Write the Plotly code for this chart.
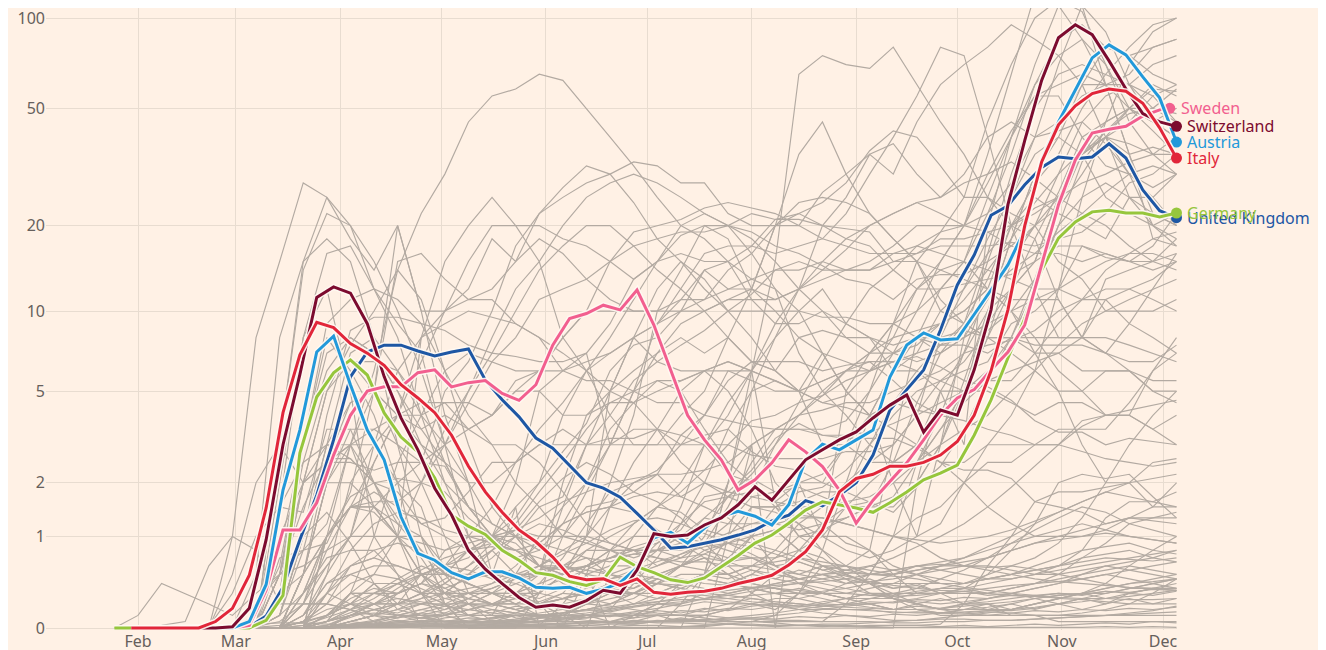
import numpy as np
import pandas as pd
import plotly.graph_objects as go

# ---------------- axis / tick data ----------------
month_ticks = ["2020-02-01", "2020-03-01", "2020-04-01", "2020-05-01", "2020-06-01",
               "2020-07-01", "2020-08-01", "2020-09-01", "2020-10-01", "2020-11-01", "2020-12-01"]
month_labels = ["Feb", "Mar", "Apr", "May", "Jun", "Jul", "Aug", "Sep", "Oct", "Nov", "Dec"]
y_ticks = [0, 1, 2, 5, 10, 20, 50, 100]
y_labels = ["0", "1", "2", "5", "10", "20", "50", "100"]

# highlighted series: every 5 days from 25 Jan 2020
five_day_dates = list(pd.date_range("2020-01-25", periods=64, freq="5D").strftime("%Y-%m-%d"))
sweden_dates = five_day_dates[:63] + ["2020-12-03"]
# grey series: weekly from 25 Jan 2020
week_dates = list(pd.date_range("2020-01-25", periods=46, freq="7D").strftime("%Y-%m-%d"))

italy = [None, 0, 0, 0, 0, 0, 0.05, 0.16, 0.49, 1.48,
         4.1, 6.9, 9.1, 8.7, 7.6, 7.0, 6.3, 5.3, 4.7, 4.1,
         3.3, 2.4, 1.8, 1.4, 1.1, 0.92, 0.71, 0.48, 0.44, 0.45,
         0.38, 0.45, 0.31, 0.29, 0.31, 0.32, 0.35, 0.40, 0.44, 0.49,
         0.61, 0.78, 1.1, 1.8, 2.1, 2.2, 2.4, 2.4, 2.5, 2.7,
         3.1, 4.0, 6.0, 10.1, 20, 33, 44, 51, 56, 58,
         57, 52, 43, 34]
switzerland = [None, None, None, None, None, 0, 0, 0.01, 0.16, 0.95,
               3.0, 5.8, 11.2, 12.2, 11.6, 9.0, 5.7, 3.9, 2.85, 1.88,
               1.35, 0.8, 0.56, 0.40, 0.26, 0.17, 0.19, 0.17, 0.23, 0.33,
               0.30, 0.55, 1.04, 1.0, 1.02, 1.18, 1.3, 1.54, 1.91, 1.63,
               2.07, 2.57, 2.85, 3.15, 3.41, 3.9, 4.4, 4.83, 3.4, 4.2,
               4.0, 6.05, 10.1, 23.6, 39, 62, 86, 95, 88, 72,
               58, 48, 45, 43.5]
austria = [None, None, None, None, None, 0, 0, 0, 0.05, 0.39,
           1.84, 3.47, 7.07, 8.1, 5.3, 3.47, 2.57, 1.32, 0.76, 0.67,
           0.52, 0.45, 0.53, 0.53, 0.46, 0.36, 0.35, 0.36, 0.30, 0.34,
           0.41, 0.58, 0.98, 1.06, 0.90, 1.13, 1.33, 1.42, 1.33, 1.18,
           1.54, 2.57, 3.02, 2.85, 3.15, 3.47, 5.68, 7.51, 8.32, 7.84,
           7.92, 9.69, 11.9, 14.6, 19.3, 33.5, 45, 57.6, 73.7, 81.4,
           75.4, 63.7, 54.2, 38.5]
sweden = [None, 0, 0, 0, 0, 0, 0, 0, 0.02, 0.33,
          1.1, 1.1, 1.58, 2.7, 4.0, 5.0, 5.2, 5.2, 5.9, 6.05,
          5.2, 5.4, 5.5, 4.9, 4.6, 5.3, 7.5, 9.4, 9.8, 10.5,
          10.1, 11.9, 8.9, 6.05, 4.0, 3.15, 2.57, 1.84, 2.07, 2.49,
          3.15, 2.79, 2.39, 1.84, 1.21, 1.63, 2.02, 2.49, 3.15, 4.0,
          4.7, 5.07, 6.05, 7.07, 8.9, 14.6, 23.6, 33.5, 41.3, 42.5,
          43.5, 47.1, 49.4, 50]
germany = [0, 0, 0, 0, 0, 0, 0, 0, 0, 0.06,
           0.28, 2.76, 4.74, 5.89, 6.6, 5.78, 4.09, 3.24, 2.79, 2.11,
           1.35, 1.16, 1.03, 0.8, 0.67, 0.52, 0.49, 0.42, 0.38, 0.44,
           0.71, 0.59, 0.52, 0.44, 0.41, 0.46, 0.59, 0.73, 0.9, 1.02,
           1.21, 1.44, 1.6, 1.54, 1.48, 1.40, 1.58, 1.8, 2.07, 2.23,
           2.43, 3.3, 4.62, 6.71, 9.4, 14, 18.1, 20.6, 22.3, 22.6,
           22.1, 22.1, 21.4, 22.1]
united_kingdom = [None, 0, 0, 0, 0, 0, 0, 0, 0.01, 0.095,
                  0.36, 0.95, 1.73, 3.15, 5.68, 7.07, 7.5, 7.5, 7.13, 6.83,
                  7.07, 7.26, 5.53, 4.62, 3.94, 3.21, 2.9, 2.43, 2.0, 1.88,
                  1.69, 1.38, 1.1, 0.83, 0.85, 0.9, 0.95, 1.02, 1.1, 1.25,
                  1.35, 1.62, 1.52, 1.73, 2.0, 2.7, 4.2, 5.07, 6.05, 8.53,
                  12.4, 15.8, 21.7, 23.4, 27.6, 31.6, 34.3, 33.8, 34.3, 38,
                  34, 26.5, 22.5, 21.3]

# ---------------- grey background countries (weekly) ----------------
grey_01 = [0, 0, 0, 0, 0, 0, 0.1, 0.6, 3, 9, 11, 12, 11, 9, 6, 4, 3, 2, 1.5, 1,
           0.9, 0.8, 0.8, 0.9, 1.2, 2, 3.5, 5, 5.5, 5, 4.5, 4.8, 6, 8, 12, 15, 20, 35, 65, 120,
           150, 110, 60, 35, 22, 20]
grey_02 = [0, 0, 0, 0, 0, 0, 0.1, 1.5, 8, 16, 17, 12, 9, 7, 3, 2, 1.2, 1, 0.6, 0.5,
           0.8, 0.8, 0.7, 0.8, 1.5, 3, 4.5, 6, 9, 12, 15, 18, 20, 22, 24, 22, 20, 22, 28, 40,
           42, 45, 38, 30, 20, 17]
grey_03 = [0, 0, 0, 0, 0, 0, 0.1, 0.8, 3, 6, 8, 7, 5, 3, 2, 1.5, 1, 0.8, 0.6, 0.5,
           0.6, 0.7, 0.8, 0.8, 1, 1.3, 1.7, 2.2, 3, 4.5, 6.5, 9, 12, 14, 17, 19, 20, 28, 40, 60,
           75, 85, 60, 35, 18, 17]
grey_04 = [0, 0, 0, 0, 0, 0, 0, 0.5, 2.5, 5.5, 6.5, 6.5, 6, 4.5, 2.5, 1.5, 1.2, 1, 0.9, 0.8,
           0.7, 0.5, 0.4, 0.4, 0.6, 1, 2, 3, 3.5, 3.5, 3.5, 3.8, 5, 7, 10, 15, 20, 30, 42, 55,
           55, 40, 32, 30, 27, 30]
grey_05 = [0, 0, 0, 0, 0, 1, 8, 15, 28, 25, 18, 14, 20, 10, 4, 2, 0.5, 1.5, 0, 0,
           0.5, 0, 0, 0, 0, 0, 1, 3, 0, 2, 1, 5, 4, 2, 1, 3, 8, 15, 25, 40,
           70, 110, 90, 60, 45, 50]
grey_06 = [0, 0, 0, 0, 0, 0, 0, 3, 14, 22, 20, 15, 10, 6, 3, 1, 0.5, 0.5, 0.2, 0,
           0, 0.5, 1, 1.5, 2, 3, 4, 6, 8, 12, 20, 25, 35, 30, 45, 60, 70, 80, 95, 85,
           75, 60, 40, 25, 25, 30]
grey_07 = [0, 0, 0, 0, 0, 0, 0, 0.3, 2, 5, 7.5, 10, 14, 11, 6, 3, 1.5, 1, 0.6, 0.4,
           0.3, 0.3, 0.2, 0.3, 0.4, 0.5, 0.6, 1, 1.5, 1.8, 1.9, 2.3, 3, 4.5, 6, 7.5, 9, 13, 20, 18,
           11, 8, 7, 6, 5, 4.5]
grey_08 = [0, 0, 0, 0, 0, 0, 0, 0.1, 1, 4, 8.5, 9.5, 9.5, 9, 8.5, 7.5, 7, 6.8, 6.5, 6.5,
           7, 9, 13, 15, 18.5, 20, 20, 19, 17, 16, 14.5, 13, 12.5, 11, 13, 13.5, 13.5, 15, 17, 20,
           23, 30, 40, 50, 50, 58]
grey_09 = [0, 0, 0, 0, 0, 0, 0, 0.3, 3, 8, 6, 4, 2, 0.5, 0.2, 0, 0, 0, 0, 0,
           0, 0, 0, 0, 0, 0.5, 2, 6, 15, 65, 75, 70, 68, 80, 60, 45, 35, 25, 20, 25,
           22, 20, 18, 25, 20, 18]
grey_10 = [0, 0, 0, 0, 0, 0, 0, 0.3, 2, 5, 6.5, 5, 3, 2, 1, 0.3, 0.2, 0.2, 0.3, 1,
           1.8, 3, 5, 9, 12, 16, 17, 17, 16, 17, 18, 22, 30, 40, 55, 80, 75, 40, 20, 12,
           8, 8, 7, 9, 12, 16]
grey_11 = [0, 0, 0, 0, 0, 0, 0, 1, 2, 2.5, 3, 6, 14, 22, 30, 45, 55, 58, 65, 62,
           50, 40, 32, 25, 20, 18, 15, 11, 9, 9, 10, 9, 8, 7.5, 8, 7.5, 7.5, 7, 8, 8,
           8, 8, 8, 7.5, 7, 6.5]
grey_12 = [0, 0, 0, 0, 0, 0, 0, 0.1, 0.8, 2.5, 2.5, 2.3, 2.5, 2.5, 5, 6.5, 10, 17, 22, 27,
           32, 30, 24, 18, 15, 12, 10, 10, 10, 10, 9.5, 9.5, 9, 9, 8, 8, 8.5, 8, 8, 7.5,
           7.5, 7.5, 7, 6.5, 6.5, 7.5]
grey_13 = [0, 0, 0, 0, 0, 0, 0, 0, 0.05, 0.2, 0.6, 0.7, 1, 2, 3, 4.5, 6.5, 8, 11, 12,
           13, 15, 17, 18, 19, 19, 20, 22, 21, 21, 20, 19.5, 19, 15, 15, 14, 13, 12, 11, 11,
           11, 8, 13, 14, 15, 18]
grey_14 = [0, 0, 0, 0, 0, 0, 0, 0, 0.2, 0.8, 1.5, 2.5, 4, 8, 10, 11, 12, 15, 18, 16,
           13, 11, 10, 10, 11, 11, 14, 16, 20, 24, 25, 24, 22, 18, 15, 11, 9, 8, 8, 7,
           7, 6, 6, 6, 5.5, 5.5]
grey_15 = [0, 0, 0, 0, 0, 0, 0, 0, 0.5, 2.5, 4.5, 5, 4, 3.5, 4, 3.5, 4, 5.5, 6, 8,
           10, 15, 19, 20, 21, 23, 24, 23, 22, 20, 18, 17, 16, 16, 16, 17, 17, 17, 17.5, 17,
           18, 19, 22, 28, 30, 35]
grey_16 = [0, 0, 0, 0, 0, 0, 0, 0, 0, 0.1, 0.2, 0.2, 0.2, 0.3, 0.3, 0.5, 0.7, 1, 1.5, 1.7,
           3, 4, 5.5, 6.5, 7.5, 8.5, 10, 11.5, 14, 15, 14, 16.5, 20, 22, 24, 25, 28, 30, 33, 29,
           25, 22, 20, 17, 15, 14]
grey_17 = [0, 0, 0, 0, 0, 0, 0, 0, 0, 0.1, 0.3, 0.3, 0.4, 0.5, 0.6, 0.7, 1, 1.3, 2, 2.8,
           3.7, 6, 7.5, 8, 10, 14, 15, 17, 21, 22, 20, 18, 17, 14, 12, 12, 12.5, 13, 13.5, 15,
           17, 17, 15.5, 15, 15, 16]
grey_18 = [0, 0, 0, 0, 0, 0, 0, 0.5, 1.5, 2.6, 2.6, 2, 1.2, 0.8, 0.5, 0.5, 0.5, 0.5, 0.5, 0.5,
           0.6, 0.8, 1.2, 1.5, 1.4, 1.1, 1.7, 2.1, 1.8, 2, 2, 3, 5, 9, 15, 19, 25, 45, 70, 100,
           115, 105, 70, 45, 35, 40]
grey_19 = [0, 0, 0, 0, 0, 0, 0, 0, 0.1, 0.4, 0.6, 0.8, 0.9, 0.8, 0.4, 0.3, 0.3, 0.2, 0.1, 0.1,
           0.1, 0.05, 0.1, 0.1, 0.1, 0.1, 0.15, 0.2, 0.15, 0.3, 0.8, 2, 4, 6, 8, 7, 8, 9, 10, 13,
           23, 35, 42, 50, 58, 57]
grey_20 = [0, 0, 0, 0, 0, 0, 0, 0, 0.1, 0.4, 0.5, 0.6, 0.6, 0.5, 0.5, 0.4, 0.3, 0.3, 0.4, 0.7,
           1.2, 1.8, 2, 2.3, 3, 3.3, 3.5, 2.8, 2.4, 2.3, 2, 1.8, 1.6, 1.4, 1.9, 2.4, 3.5, 5.5, 8, 13,
           20, 33, 42, 48, 50, 48]
grey_21 = [0, 0, 0, 0, 0, 0, 0, 0, 0.2, 0.6, 1, 1, 1, 0.9, 0.8, 0.9, 1, 1.1, 1, 1,
           1, 0.9, 0.8, 0.8, 0.8, 0.9, 1.2, 1.7, 1.8, 1.9, 1.7, 1.5, 1.5, 1.5, 2, 3, 5.5, 10, 18, 30,
           40, 60, 60, 50, 42, 35]
grey_22 = [0, 0, 0, 0, 0, 0, 0, 0, 0.5, 2, 3, 3, 2, 1.5, 0.5, 0.8, 1, 2, 5, 6,
           6.5, 7, 8, 6.5, 6, 6, 6, 5.5, 5, 5, 5.5, 6, 7, 7, 6.5, 7, 8, 9, 12, 18,
           26, 40, 45, 50, 45, 40]
grey_23 = [0, 0, 0, 0, 0, 0, 0, 0, 0.5, 2, 2, 1.5, 1, 1, 0.5, 0.4, 0.3, 0.3, 0.5, 1.5,
           3, 5, 6, 7, 8, 7, 8, 6.5, 6, 8, 8.5, 8, 8, 7, 7.5, 9, 11, 14, 18, 24,
           30, 36, 40, 38, 35, 30]
grey_24 = [0, 0, 0, 0, 0, 0, 0, 0, 0, 1, 3, 2, 1, 0.3, 0, 0, 0, 0, 0.3, 0.5,
           1, 5, 8, 9, 11, 14, 12, 12, 20, 20, 26, 30, 35, 38, 30, 25, 30, 40, 45, 40,
           45, 60, 80, 75, 65, 60]
grey_25 = [0, 0, 0, 0, 0, 0, 0, 0, 0.5, 1, 1.5, 1.6, 1.6, 2, 3.5, 5, 7, 10, 14, 17,
           20, 20, 17, 14, 12, 10, 8, 6.5, 6, 5, 7, 6.5, 6, 7, 8, 12, 15, 25, 40, 55,
           60, 65, 60, 60, 55, 45]
grey_26 = [0, 0, 0, 0, 0, 0, 0, 0, 0.3, 1, 1.7, 2, 2.1, 2, 1.8, 1.3, 1, 1, 0.8, 1,
           1.5, 1.6, 1.8, 2.2, 3.3, 4, 5.5, 6.5, 6.5, 6.5, 6, 6.3, 6.5, 6.5, 7, 10, 12, 16, 20, 23,
           25, 35, 40, 35, 37, 35]
grey_27 = [0, 0, 0, 0, 0, 0, 0, 1.5, 2.5, 3, 2.6, 2, 1.3, 0.8, 0.5, 0.2, 0.1, 0.1, 0.1, 0.1,
           0.2, 0.8, 1, 1, 1, 0.8, 0.7, 0.7, 0.7, 1, 1.1, 1.3, 1.5, 2.5, 4.5, 7, 9, 16, 30, 50,
           65, 70, 65, 60, 70, 75]
grey_28 = [0, 0, 0, 0, 0, 0, 0, 0, 0.2, 1, 1.5, 1.4, 1, 0.7, 0.3, 0.2, 0.05, 0.02, 0.02, 0.2,
           0.5, 1.5, 2, 2.2, 1.7, 2, 1.7, 1.8, 3, 4, 5, 6, 6.5, 5.5, 4.5, 4, 5, 10, 18, 30,
           45, 55, 60, 65, 80, 85]
grey_29 = [0, 0, 0, 0, 0, 0, 0, 3, 15, 25, 20, 12, 8, 4, 2, 1, 0.5, 0.3, 0.3, 0.5,
           1, 2, 4, 10, 14, 20, 18, 12, 10, 8, 7, 5, 7, 9, 10, 12, 15, 22, 35, 60,
           85, 95, 80, 75, 80, 85]
grey_30 = [0, 0, 0, 0, 0, 0, 0, 0, 0, 0.1, 0.2, 0.4, 0.4, 0.3, 0.2, 0.1, 0.1, 0.05, 0.1, 0.05,
           0.05, 0.05, 0.05, 0.1, 0.05, 0.05, 0.05, 0.05, 0.05, 0.05, 0.05, 0.2, 0.5, 1, 2.5, 4, 7, 12, 20, 28,
           35, 50, 65, 80, 95, 100]
grey_31 = [0, 0, 0, 0, 0.01, 0.3, 1, 1.5, 1.4, 3.5, 3.5, 2, 1.8, 1.2, 1.3, 1.8, 2.5, 2.5, 3, 3.5,
           3, 3, 3, 3, 3, 3, 3, 2.7, 2.6, 2.6, 2.6, 2.8, 2.8, 3, 4, 4.5, 5, 5.5, 5.5, 7,
           9, 11, 14, 16, 16, 15]
grey_32 = [0, 0, 0, 0, 0, 0.5, 2, 3, 2, 2.5, 3, 5, 20, 10, 10, 12, 18, 15, 22, 25,
           28, 30, 33, 32, 28, 28, 22, 20, 20, 22, 24, 28, 36, 42, 40, 32, 25, 25, 22, 20,
           15, 13, 10, 10, 10, 11]
grey_33 = [0, 0, 0, 0, 0, 0, 0.2, 0.5, 0.6, 0.8, 1, 2.5, 4, 6.5, 10, 15, 20, 20, 20, 18,
           17, 15, 13, 15, 16, 15, 15, 13, 14, 14, 15, 14, 14, 16, 17, 16, 15, 14, 13, 12,
           12, 11, 11, 9, 8, 7]
grey_34 = [0, 0.1, 0.4, 0.3, 0.2, 0.1, 0.3, 0.5, 0.8, 0.9, 1.8, 5, 15, 16, 13, 11, 11, 9, 8, 6,
           7, 3, 3.5, 3.5, 3, 4, 6, 6, 1.6, 1, 1, 1, 0.8, 0.5, 0.3, 0.3, 0.2, 0.2, 0.1, 0.1,
           0.1, 0.1, 0.1, 0.1, 0.1, 0.1]
grey_35 = [0, 0, 0, 0, 0, 0, 0, 0, 0, 0.3, 0.2, 0.1, 0.2, 0.5, 0.5, 0.8, 1, 1.5, 2, 4,
           6, 8, 11, 15, 20, 22, 20, 16, 12, 7, 5, 4, 3, 2.5, 3, 2.5, 2.5, 3, 3, 3,
           3.5, 3.5, 3.5, 4.5, 6, 7]
grey_36 = [0, 0, 0, 0, 0, 0, 0, 0, 0, 1, 1.5, 1.5, 1, 0.5, 0.3, 0.1, 0.1, 0.5, 0.5, 2,
           4, 5, 8, 12, 15, 13, 10, 8, 6, 5, 3, 3, 2.5, 2.5, 2.5, 3.5, 5, 8, 15, 20,
           25, 35, 40, 30, 25, 20]
grey_37 = [0, 0, 0, 0, 0, 0, 0, 0, 0, 0.5, 2, 3, 4, 4, 4.5, 4.5, 4, 5, 6, 8,
           10, 10, 10, 10, 10, 10, 11, 11, 11, 12, 13, 14, 14, 15, 16, 18, 18, 19, 20, 22,
           25, 28, 30, 33, 35, 35]
grey_38 = [0, 0, 0, 0, 0, 0, 0, 0.5, 3, 7, 8, 7, 5, 3.5, 2.5, 2, 2, 2.5, 3, 3,
           3, 3.2, 3.2, 3.5, 3.3, 3, 2.2, 2, 1.6, 2, 2.2, 3, 4, 6, 7, 7.5, 8, 11, 16, 20,
           30, 45, 55, 60, 50, 45]
grey_39 = [0, 0, 0, 0, 0, 0, 0, 0.7, 0.8, 1.2, 3, 3.5, 3, 2.5, 2.4, 1.5, 1, 0.9, 0.6, 0.6,
           0.5, 0.6, 0.6, 0.3, 0.4, 0.5, 0.6, 1.5, 1.5, 1.6, 1.8, 1.8, 3, 4, 5, 5.5, 6, 6.5, 9, 10,
           12, 17, 16, 15, 17, 22]
grey_40 = [0, 0, 0, 0, 0, 0, 0, 0, 0.5, 2, 3.5, 3.5, 4, 4.5, 4.5, 3.5, 3, 3, 2.5, 1.8,
           1.2, 0.9, 0.8, 0.8, 0.9, 1.3, 1.2, 1.2, 1.2, 1.1, 1.2, 1.3, 1.5, 1.7, 2.5, 3.5, 4.5, 5.5, 6, 6.5,
           7, 8, 11, 12, 13, 15]
grey_41 = [0, 0, 0, 0, 0, 0, 0, 0, 0, 0.05, 0.3, 1, 2.5, 4, 6, 7, 6.5, 6, 6, 6,
           5.5, 5.5, 5, 4.5, 4.5, 4, 3.8, 3.6, 3.5, 3.5, 3.3, 3.3, 3.4, 3.7, 4.1, 5.5, 6.5, 8.5, 10, 11,
           12, 13.5, 15, 16, 18, 19]
grey_42 = [0, 0, 0, 0, 0, 0, 0, 0, 0, 0, 0.01, 0.05, 0.1, 0.1, 0.15, 0.2, 0.3, 0.4, 0.5, 0.6,
           0.8, 1, 1.2, 1.5, 1.8, 2.3, 3, 3.8, 4, 4.5, 4.8, 5.5, 6, 6.5, 6.8, 6.2, 5.5, 5.2, 4.6, 3.8,
           3.4, 3.4, 3, 3.2, 3.1, 3]
grey_43 = [0, 0, 0, 0, 0, 0, 0.03, 0.04, 0.04, 0.1, 0.2, 0.4, 0.4, 0.3, 0.2, 0.1, 0.05, 0.03, 0.03, 0.03,
           0.04, 0.05, 0.08, 0.15, 0.3, 0.5, 0.7, 1, 1.1, 0.8, 0.7, 0.5, 0.4, 0.4, 0.4, 0.4, 0.4, 0.45, 0.45, 0.5,
           0.6, 0.8, 1.3, 1.6, 1.6, 1.8]
grey_44 = [0, 0, 0.02, 0.05, 0.6, 1, 0.8, 0.2, 0.2, 0.2, 0.15, 0.05, 0.02, 0.02, 0.02, 0.05, 0.05, 0.05, 0.08, 0.1,
           0.08, 0.1, 0.08, 0.1, 0.1, 0.08, 0.05, 0.05, 0.1, 0.3, 0.6, 0.6, 0.4, 0.3, 0.2, 0.15, 0.15, 0.15, 0.15, 0.2,
           0.25, 0.3, 0.4, 0.6, 0.8, 1]
grey_45 = [0, 0, 0, 0, 0, 0, 0, 0, 0, 0, 0.01, 0.02, 0.05, 0.05, 0.1, 0.15, 0.2, 0.3, 0.4, 0.5,
           0.6, 0.7, 0.8, 0.7, 0.6, 0.7, 0.5, 0.4, 0.35, 0.3, 0.25, 0.2, 0.2, 0.15, 0.15, 0.12, 0.15, 0.2, 0.15, 0.2,
           0.25, 0.3, 0.3, 0.35, 0.4, 0.45]
grey_46 = [0, 0, 0, 0, 0, 0, 0, 0, 0, 0, 0.02, 0.05, 0.1, 0.08, 0.12, 0.1, 0.15, 0.12, 0.2, 0.25,
           0.3, 0.35, 0.3, 0.4, 0.35, 0.45, 0.4, 0.35, 0.3, 0.35, 0.3, 0.25, 0.3, 0.25, 0.2, 0.25, 0.2, 0.15, 0.2, 0.15,
           0.2, 0.15, 0.2, 0.25, 0.2, 0.25]
grey_47 = [0, 0, 0, 0, 0, 0, 0, 0, 0, 0, 0.05, 0.1, 0.15, 0.25, 0.4, 0.6, 0.9, 1.1, 1.6, 2.1,
           2.5, 2.2, 1.8, 1.6, 1.3, 0.9, 0.6, 0.4, 0.35, 0.3, 0.3, 0.25, 0.25, 0.25, 0.3, 0.3, 0.3, 0.3, 0.35, 0.4,
           0.5, 0.7, 0.9, 1.2, 1.3, 1.4]
grey_48 = [0, 0, 0, 0, 0, 0, 0, 0, 0, 0, 0.05, 0.1, 0.15, 0.2, 0.25, 0.3, 0.4, 0.6, 0.9, 1.2,
           1.4, 1.5, 1.4, 1.1, 0.9, 0.7, 0.5, 0.3, 0.2, 0.15, 0.15, 0.15, 0.15, 0.12, 0.13, 0.12, 0.12, 0.14, 0.14, 0.16,
           0.2, 0.25, 0.3, 0.35, 0.4, 0.45]
grey_49 = [0, 0, 0, 0, 0, 0, 0, 0, 0, 0, 0.01, 0.01, 0.02, 0.03, 0.03, 0.04, 0.05, 0.07, 0.1, 0.12,
           0.15, 0.2, 0.25, 0.4, 0.6, 0.8, 0.9, 1, 1.1, 0.8, 0.6, 0.45, 0.3, 0.3, 0.3, 0.35, 0.35, 0.5, 0.8, 1.2,
           2, 2.2, 2.1, 2.2, 1.7, 1.3]
grey_50 = [0, 0, 0, 0, 0, 0, 0, 0, 0, 0, 0.02, 0.03, 0.04, 0.05, 0.05, 0.06, 0.08, 0.1, 0.1, 0.12,
           0.15, 0.17, 0.2, 0.22, 0.24, 0.24, 0.25, 0.28, 0.3, 0.3, 0.32, 0.35, 0.4, 0.5, 0.55, 0.6, 0.6, 0.58, 0.6, 0.56,
           0.5, 0.55, 0.6, 0.65, 0.7, 0.8]
grey_51 = [0, 0, 0, 0, 0, 0, 0, 0, 0, 0, 0, 0, 0.005, 0.01, 0.02, 0.05, 0.08, 0.1, 0.12, 0.15,
           0.2, 0.25, 0.3, 0.3, 0.3, 0.25, 0.22, 0.2, 0.18, 0.15, 0.12, 0.1, 0.08, 0.06, 0.06, 0.07, 0.07, 0.06, 0.06, 0.07,
           0.08, 0.09, 0.1, 0.12, 0.14, 0.18]
grey_52 = [0, 0.01, 0.01, 0.005, 0.005, 0.01, 0.01, 0.05, 0.2, 0.2, 0.15, 0.1, 0.05, 0.02, 0.01, 0.01, 0.02, 0.01, 0.02, 0.01,
           0.02, 0.01, 0.02, 0.02, 0.01, 0.02, 0.03, 0.02, 0.01, 0.02, 0.01, 0.02, 0.01, 0.02, 0.02, 0.01, 0.02, 0.01, 0.02, 0.03,
           0.02, 0.03, 0.04, 0.03, 0.05, 0.04]
grey_53 = [0, 0, 0, 0, 0, 0, 0, 0, 0, 0.05, 0.3, 0.3, 0.3, 0.4, 0.3, 0.3, 0.2, 0.15, 0.2, 0.3,
           0.6, 0.8, 0.8, 0.6, 0.7, 0.9, 1.5, 2.5, 3.5, 4, 4.2, 4.5, 4.5, 5, 5.5, 6, 7, 7.5, 7.8, 8.5,
           10, 11, 12, 12, 11, 10]
grey_54 = [0, 0, 0, 0, 0, 0, 0, 0, 0, 0.1, 0.3, 0.2, 0.1, 0.05, 0.02, 0.02, 0.01, 0.01, 0.01, 0.02,
           0.02, 0.03, 0.03, 0.05, 0.05, 0.1, 0.15, 0.3, 0.5, 0.8, 1.2, 1.5, 2, 2.5, 3, 5, 7, 10, 12, 15,
           25, 35, 45, 50, 45, 40]
grey_55 = [0, 0, 0, 0, 0, 0, 0, 0, 0, 0, 0, 0.005, 0.01, 0.01, 0.01, 0.02, 0.03, 0.05, 0.08, 0.12,
           0.2, 0.3, 0.35, 0.5, 0.6, 0.75, 0.9, 1.1, 1.2, 1.3, 1.3, 1.2, 1.1, 1, 0.9, 0.7, 0.6, 0.6, 0.55, 0.5,
           0.5, 0.45, 0.4, 0.35, 0.35, 0.35]
grey_56 = [0, 0, 0, 0, 0.01, 0.02, 0.05, 0.2, 1, 1.4, 0.9, 0.4, 0.15, 0.1, 0.05, 0.05, 0.05, 0.05, 0.05, 0.05,
           0.1, 0.15, 0.4, 0.7, 1.2, 1.6, 1.7, 1.5, 1.4, 1.2, 0.8, 0.5, 0.4, 0.25, 0.15, 0.1, 0.1, 0.1, 0.1, 0.1,
           0.05, 0.05, 0.05, 0.05, 0.05, 0.05]
grey_57 = [0, 0, 0, 0, 0, 0, 0, 0, 0, 0.05, 0.15, 0.2, 0.2, 0.2, 0.2, 0.2, 0.2, 0.2, 0.3, 0.5,
           0.6, 0.5, 0.6, 0.9, 1.1, 1.7, 1.8, 2.3, 3.2, 3.7, 3.3, 3.2, 3.2, 3.2, 2.9, 2.5, 2.3, 2.3, 2.1, 1.6,
           1.5, 1.4, 1.2, 1.3, 1.3, 1.3]
grey_58 = [0, 0, 0, 0, 0, 0, 0, 2, 8, 12, 5, 1, 0.5, 0, 0, 0, 0, 0, 0, 0,
           0, 0, 0, 0, 0, 0, 0, 0, 0, 0, 0, 0, 0, 0, 2, 5, 3, 20, 40, 70,
           110, 85, 70, 50, 60, 55]
grey_59 = [0, 0, 0, 0, 0, 0, 0.5, 8, 15, 18, 15, 8, 3, 1, 0.2, 0, 0, 0, 0, 0,
           0, 0, 0.1, 0.2, 0.4, 0.5, 1, 1.5, 1.5, 1, 0.8, 0.6, 0.8, 3, 8, 9, 10, 12, 10, 7,
           5, 3, 2, 2, 1.5, 2]
grey_60 = [0, 0, 0, 0, 0, 0, 0, 0, 0, 0.1, 0.3, 0.5, 1, 8, 15, 20, 25, 20, 15, 8,
           6, 4, 3, 3, 4, 5, 8, 12, 20, 35, 45, 30, 22, 18, 15, 10, 9, 8, 7, 6,
           5, 5, 6, 6, 5, 5]
grey_61 = [0, 0, 0, 0, 0, 0, 0, 0, 0, 0.3, 0.5, 0.4, 0.2, 0.1, 0.1, 0.2, 0.3, 0.5, 1, 1.5,
           2, 3, 5, 7, 9, 10, 11, 12, 11, 12, 14, 14, 15, 17, 20, 20, 20, 19, 17, 16,
           16, 15, 16, 15, 14, 15]
grey_62 = [0, 0, 0, 0, 0, 0, 0, 0, 0, 0.05, 0.1, 0.2, 0.3, 0.4, 0.6, 1, 1.5, 2.5, 3.5, 4.5,
           6, 7, 8, 9, 10, 11, 12, 13, 12, 10, 7, 5, 4, 3.5, 3, 2.5, 2, 1.5, 1.2, 1,
           1, 1, 1.1, 1.3, 1.5, 1.5]
grey_63 = [0, 0, 0, 0, 0, 0, 0, 0.3, 0.5, 1, 1.5, 1.8, 1.5, 1.2, 1, 0.8, 0.5, 0.3, 0.2, 0.15,
           0.1, 0.1, 0.1, 0.1, 0.1, 0.15, 0.2, 0.2, 0.25, 0.25, 0.3, 0.4, 0.5, 1, 1.3, 1.5, 2, 2.5, 2.5, 3,
           3, 3.8, 4, 4, 6, 8]
grey_64 = [0, 0, 0, 0, 0, 0, 0, 0, 0, 0, 0.05, 0.1, 0.3, 0.5, 0.6, 0.8, 0.9, 0.8, 0.9, 1.2,
           1.4, 1.5, 1.7, 1.8, 1.7, 1.5, 1.3, 1, 0.6, 0.4, 0.3, 0.25, 0.2, 0.15, 0.15, 0.12, 0.15, 0.17, 0.2, 0.25,
           0.2, 0.25, 0.2, 0.3, 0.35, 0.4]
grey_65 = [0, 0, 0, 0, 0, 0, 0, 0, 0, 0, 0.05, 0.03, 0.06, 0.04, 0.08, 0.1, 0.15, 0.08, 0.06, 0.05,
           0.05, 0.04, 0.03, 0.05, 0.08, 0.05, 0.03, 0.02, 0.02, 0.02, 0.02, 0.01, 0.02, 0.02, 0.02, 0.03, 0.2, 0.6, 1, 1.6,
           1.8, 1.8, 1.9, 2, 2.5, 2.6]
grey_66 = [0, 0, 0.005, 0.005, 0, 0, 0.005, 0.02, 0.04, 0.03, 0.02, 0.01, 0.005, 0, 0, 0.005, 0.005, 0.01, 0.005, 0.005,
           0.005, 0.005, 0, 0.005, 0.01, 0.01, 0.03, 0.05, 0.04, 0.02, 0.02, 0.01, 0.005, 0.005, 0.005, 0.005, 0.005, 0.005, 0, 0.005,
           0.005, 0.005, 0.01, 0.005, 0.01, 0.005]
grey_67 = [0, 0, 0, 0, 0, 0, 0, 0, 0, 0, 0.1, 0.2, 0.3, 0.4, 0.8, 1, 0.9, 0.8, 0.6, 0.55,
           0.6, 0.7, 0.75, 0.7, 0.65, 0.65, 0.6, 0.6, 0.55, 0.5, 0.6, 0.5, 0.4, 0.25, 0.2, 0.15, 0.12, 0.1, 0.12, 0.1,
           0.1, 0.12, 0.15, 0.2, 0.3, 0.45]
grey_68 = [0, 0, 0, 0, 0, 0, 0, 0, 0, 0, 0.1, 0.15, 0.2, 0.25, 0.3, 0.35, 0.4, 0.5, 0.6, 0.8,
           1, 1.5, 2.5, 3.5, 5, 6, 5, 3.5, 2, 1.5, 1.2, 0.9, 0.8, 0.6, 0.5, 0.4, 0.4, 0.5, 0.6, 0.7,
           0.9, 1.3, 2, 3, 4, 5]
grey_69 = [0, 0, 0, 0, 0, 0, 0, 0, 0, 0, 0.02, 0.03, 0.05, 0.08, 0.1, 0.15, 0.2, 0.25, 0.35, 0.45,
           0.55, 0.7, 0.85, 0.95, 1.0, 0.9, 0.8, 0.7, 0.55, 0.45, 0.4, 0.35, 0.3, 0.25, 0.22, 0.2, 0.22, 0.25, 0.3, 0.35,
           0.4, 0.5, 0.6, 0.55, 0.5, 0.45]
grey_70 = [0, 0, 0, 0, 0, 0, 0, 0, 0.02, 0.05, 0.1, 0.12, 0.1, 0.08, 0.06, 0.05, 0.04, 0.05, 0.04, 0.03,
           0.05, 0.04, 0.06, 0.05, 0.07, 0.06, 0.08, 0.1, 0.12, 0.15, 0.18, 0.2, 0.25, 0.3, 0.35, 0.45, 0.55, 0.7, 0.9, 1.1,
           1.3, 1.5, 1.4, 1.2, 1.1, 1.0]
grey_71 = [0, 0, 0, 0, 0, 0, 0, 0, 0, 0.01, 0.03, 0.06, 0.1, 0.15, 0.12, 0.2, 0.18, 0.25, 0.22, 0.3,
           0.28, 0.35, 0.3, 0.4, 0.38, 0.45, 0.4, 0.5, 0.45, 0.55, 0.5, 0.45, 0.4, 0.35, 0.38, 0.3, 0.32, 0.28, 0.3, 0.25,
           0.28, 0.3, 0.25, 0.3, 0.28, 0.32]
grey_72 = [0, 0, 0, 0, 0, 0, 0, 0, 0, 0, 0.01, 0.02, 0.02, 0.03, 0.05, 0.04, 0.06, 0.05, 0.08, 0.07,
           0.1, 0.09, 0.12, 0.11, 0.14, 0.13, 0.16, 0.15, 0.18, 0.17, 0.2, 0.19, 0.22, 0.21, 0.24, 0.23, 0.26, 0.25, 0.28, 0.27,
           0.3, 0.29, 0.32, 0.31, 0.34, 0.33]
grey_73 = [0, 0, 0, 0, 0, 0, 0, 0, 0.05, 0.2, 0.4, 0.5, 0.45, 0.35, 0.25, 0.2, 0.15, 0.12, 0.1, 0.12,
           0.15, 0.2, 0.3, 0.45, 0.6, 0.7, 0.65, 0.55, 0.45, 0.4, 0.35, 0.3, 0.35, 0.4, 0.5, 0.6, 0.7, 0.85, 1, 1.2,
           1.4, 1.6, 1.8, 1.7, 1.6, 1.5]
grey_74 = [0, 0, 0, 0, 0, 0, 0, 0, 0, 0, 0, 0.01, 0.01, 0.02, 0.02, 0.03, 0.03, 0.04, 0.05, 0.06,
           0.08, 0.1, 0.13, 0.16, 0.2, 0.25, 0.3, 0.35, 0.4, 0.45, 0.5, 0.52, 0.5, 0.48, 0.45, 0.4, 0.36, 0.33, 0.3, 0.28,
           0.25, 0.24, 0.22, 0.2, 0.2, 0.2]
grey_75 = [0, 0, 0, 0, 0, 0, 0, 0, 0, 0.02, 0.1, 0.2, 0.35, 0.5, 0.6, 0.55, 0.45, 0.4, 0.3, 0.25,
           0.2, 0.18, 0.15, 0.12, 0.1, 0.1, 0.08, 0.08, 0.1, 0.12, 0.15, 0.18, 0.2, 0.22, 0.25, 0.3, 0.35, 0.4, 0.45, 0.5,
           0.55, 0.6, 0.65, 0.7, 0.75, 0.8]
grey_76 = [0, 0, 0, 0, 0, 0, 0, 0, 0, 0, 0.02, 0.04, 0.08, 0.12, 0.18, 0.25, 0.35, 0.45, 0.6, 0.75,
           0.9, 1.1, 1.25, 1.3, 1.2, 1.05, 0.9, 0.75, 0.6, 0.5, 0.45, 0.4, 0.42, 0.45, 0.5, 0.55, 0.6, 0.7, 0.8, 0.9,
           1, 1.1, 1.2, 1.3, 1.25, 1.2]
grey_77 = [0, 0, 0, 0, 0, 0, 0, 0, 0, 0, 0, 0, 0, 0.01, 0.01, 0.02, 0.02, 0.02, 0.03, 0.03,
           0.04, 0.04, 0.05, 0.05, 0.06, 0.06, 0.07, 0.07, 0.06, 0.06, 0.05, 0.05, 0.05, 0.04, 0.04, 0.05, 0.05, 0.06, 0.06, 0.07,
           0.08, 0.09, 0.1, 0.11, 0.12, 0.13]
grey_78 = [0, 0, 0, 0, 0, 0, 0, 0, 0.1, 0.3, 0.6, 0.7, 0.6, 0.5, 0.35, 0.25, 0.2, 0.15, 0.1, 0.08,
           0.06, 0.05, 0.05, 0.04, 0.04, 0.03, 0.03, 0.03, 0.02, 0.02, 0.03, 0.03, 0.04, 0.05, 0.06, 0.08, 0.1, 0.12, 0.15, 0.2,
           0.25, 0.3, 0.35, 0.4, 0.45, 0.5]
grey_79 = [0, 0, 0, 0, 0, 0, 0, 0, 0, 0.01, 0.05, 0.1, 0.2, 0.3, 0.45, 0.6, 0.8, 1, 1.2, 1.1,
           0.95, 0.8, 0.65, 0.5, 0.45, 0.4, 0.38, 0.36, 0.35, 0.33, 0.3, 0.3, 0.28, 0.27, 0.28, 0.3, 0.32, 0.35, 0.38, 0.4,
           0.42, 0.45, 0.5, 0.55, 0.6, 0.65]
grey_80 = [0, 0, 0, 0, 0, 0, 0, 0, 0, 0, 0.01, 0.01, 0.01, 0.02, 0.03, 0.05, 0.08, 0.12, 0.18, 0.25,
           0.35, 0.45, 0.55, 0.65, 0.75, 0.85, 0.9, 0.85, 0.75, 0.65, 0.55, 0.48, 0.42, 0.38, 0.35, 0.33, 0.32, 0.3, 0.28, 0.27,
           0.26, 0.25, 0.25, 0.24, 0.24, 0.25]
grey_81 = [0, 0, 0, 0, 0, 0, 0, 0, 0.05, 0.15, 0.2, 0.15, 0.1, 0.08, 0.05, 0.04, 0.03, 0.03, 0.05, 0.1,
           0.2, 0.35, 0.55, 0.8, 1, 1.1, 1, 0.9, 0.8, 0.7, 0.6, 0.55, 0.5, 0.5, 0.55, 0.6, 0.65, 0.7, 0.8, 0.9,
           0.95, 1, 1.05, 1, 0.95, 0.9]
grey_82 = [0, 0, 0, 0, 0, 0, 0, 0, 0, 0, 0, 0.005, 0.01, 0.01, 0.02, 0.02, 0.03, 0.04, 0.05, 0.07,
           0.1, 0.14, 0.18, 0.22, 0.26, 0.3, 0.33, 0.36, 0.38, 0.4, 0.42, 0.45, 0.5, 0.55, 0.6, 0.62, 0.6, 0.55, 0.5, 0.45,
           0.42, 0.4, 0.38, 0.36, 0.35, 0.35]
grey_83 = [0, 0, 0, 0, 0, 0, 0, 0, 0, 0.05, 0.12, 0.2, 0.25, 0.22, 0.18, 0.15, 0.12, 0.1, 0.1, 0.12,
           0.14, 0.16, 0.18, 0.2, 0.22, 0.25, 0.28, 0.32, 0.36, 0.4, 0.45, 0.5, 0.6, 0.7, 0.85, 1, 1.2, 1.5, 1.9, 2.4,
           3, 3.6, 4, 4.2, 4.4, 4.6]
grey_84 = [0, 0, 0, 0, 0, 0, 0, 0, 0, 0, 0.01, 0.02, 0.03, 0.03, 0.04, 0.05, 0.05, 0.06, 0.08, 0.1,
           0.12, 0.15, 0.2, 0.25, 0.3, 0.28, 0.25, 0.22, 0.2, 0.18, 0.16, 0.15, 0.14, 0.13, 0.12, 0.12, 0.13, 0.14, 0.15, 0.17,
           0.2, 0.22, 0.25, 0.27, 0.3, 0.33]
grey_85 = [0, 0, 0, 0, 0, 0, 0, 0, 0.02, 0.08, 0.15, 0.25, 0.4, 0.55, 0.7, 0.8, 0.85, 0.8, 0.7, 0.6,
           0.5, 0.45, 0.5, 0.6, 0.75, 0.9, 1.05, 1.2, 1.3, 1.35, 1.3, 1.2, 1.1, 1, 0.95, 0.9, 0.95, 1, 1.1, 1.25,
           1.4, 1.6, 1.8, 2, 2.1, 2.2]
grey_86 = [0, 0, 0, 0, 0, 0, 0, 0, 0, 0, 0.005, 0.01, 0.005, 0.01, 0.02, 0.01, 0.02, 0.03, 0.02, 0.04,
           0.03, 0.05, 0.04, 0.06, 0.05, 0.07, 0.06, 0.08, 0.07, 0.09, 0.08, 0.1, 0.09, 0.11, 0.1, 0.12, 0.11, 0.13, 0.12, 0.14,
           0.13, 0.15, 0.14, 0.16, 0.15, 0.17]
grey_87 = [0, 0, 0, 0, 0, 0, 0, 0, 0.05, 0.3, 0.8, 1.2, 1.4, 1.3, 1.1, 1, 1, 1.1, 1.3, 1.6,
           1.8, 2, 2.1, 2.2, 2.2, 2.3, 2.5, 3, 3.5, 4, 4.8, 6, 7, 8, 8.5, 9, 10, 12, 14, 16,
           19, 22, 26, 30, 32, 30]
grey_88 = [0, 0, 0, 0, 0, 0, 0, 0.1, 1, 3, 4.5, 5, 4, 3, 2.5, 1.5, 1, 0.7, 0.8, 1.2,
           2, 3.5, 4.5, 5.5, 5, 3.5, 2.5, 2, 1.5, 1.2, 1, 0.8, 0.7, 0.8, 1, 1.2, 2, 3, 4, 6,
           12, 25, 45, 70, 90, 100]
grey_89 = [0, 0, 0, 0, 0, 0, 0, 0, 0.3, 1, 1.5, 1.5, 1.2, 1, 0.6, 0.4, 0.3, 0.2, 0.2, 0.1,
           0.1, 0.1, 0.1, 0.2, 0.2, 0.3, 0.4, 0.5, 0.7, 0.8, 1, 1.5, 1.6, 2, 2, 3, 5, 8, 12, 15,
           25, 35, 40, 45, 55, 60]
grey_90 = [0, 0, 0, 0, 0, 0, 0, 0, 0.3, 0.7, 0.8, 0.8, 0.5, 0.3, 0.1, 0.05, 0.05, 0.1, 0.05, 0.1,
           0.2, 0.3, 0.3, 0.4, 0.5, 0.5, 0.5, 0.6, 0.8, 1.2, 1.5, 2, 2.5, 3, 4, 8, 12, 18, 25, 35,
           40, 35, 25, 22, 20, 22]
grey_91 = [0, 0, 0, 0, 0, 0, 0, 0.5, 2, 3, 3, 1.5, 1, 0.5, 0.3, 0.5, 0.8, 0.5, 0.2, 0.1,
           0, 0, 0, 0, 0.2, 0.5, 2, 5, 8, 10, 12, 9, 8, 6, 6, 5, 5, 6, 8, 12,
           20, 25, 28, 25, 22, 20]
grey_92 = [0, 0, 0, 0, 0, 0, 0, 0, 0.1, 0.5, 1, 3, 6, 8, 9, 10, 9.5, 9, 8, 7,
           6, 5, 4.5, 3.5, 2.5, 2, 1.8, 1.7, 1.6, 1.5, 1.5, 1.6, 1.7, 2, 2.5, 3, 3.5, 4, 5, 6,
           7.5, 9, 10, 11, 12, 13]
grey_93 = [0, 0, 0, 0, 0, 0, 0, 0.1, 1, 3, 7, 8, 6, 4, 3, 3.5, 4, 5, 5, 4,
           4, 4.5, 4.5, 5, 5.5, 6, 6.5, 6, 5.5, 5, 5.5, 6, 6, 6.5, 6, 5.5, 5, 5, 4.5, 4,
           4.5, 4.5, 4, 4, 3.5, 4]
grey_94 = [0, 0, 0, 0, 0, 0, 0, 0.1, 0.3, 0.6, 1, 1.5, 2, 2.5, 3, 5, 8, 12, 15, 20,
           25, 28, 30, 28, 25, 22, 20, 18, 15, 12, 10, 8, 7, 9, 12, 14, 15, 12, 10, 8,
           6, 5, 4, 4, 3.5, 3]
grey_95 = [0, 0, 0, 0, 0, 0, 0, 0, 0, 0.05, 0.1, 0.15, 0.2, 0.3, 0.4, 0.6, 0.8, 1.2, 1.8, 2.5,
           3.5, 4.5, 5, 5.5, 5.5, 6, 6.5, 6, 5.5, 5, 4.5, 4.3, 4, 4.5, 4.2, 4, 3.8, 3.5, 3.3, 3,
           3, 2.8, 2.6, 2.5, 2.4, 2.5]
grey_96 = [0, 0, 0, 0, 0, 0, 0, 0, 0, 0.02, 0.08, 0.15, 0.12, 0.2, 0.15, 0.25, 0.2, 0.3, 0.25, 0.35,
           0.3, 0.4, 0.35, 0.45, 0.4, 0.5, 0.45, 0.55, 0.5, 0.45, 0.5, 0.4, 0.45, 0.35, 0.4, 0.3, 0.35, 0.3, 0.35, 0.4,
           0.45, 0.5, 0.55, 0.6, 0.55, 0.5]
grey_97 = [0, 0, 0, 0, 0, 0, 0, 0, 0, 0, 0.05, 0.1, 0.08, 0.12, 0.1, 0.15, 0.12, 0.18, 0.15, 0.2,
           0.25, 0.2, 0.3, 0.25, 0.35, 0.3, 0.4, 0.35, 0.3, 0.25, 0.2, 0.25, 0.2, 0.15, 0.2, 0.15, 0.2, 0.25, 0.3, 0.35,
           0.4, 0.45, 0.5, 0.45, 0.4, 0.35]
grey_98 = [0, 0, 0, 0, 0, 0, 0, 0, 0.05, 0.1, 0.2, 0.3, 0.25, 0.2, 0.3, 0.25, 0.2, 0.15, 0.2, 0.25,
           0.3, 0.35, 0.4, 0.5, 0.6, 0.55, 0.5, 0.6, 0.65, 0.7, 0.65, 0.6, 0.55, 0.5, 0.6, 0.55, 0.5, 0.45, 0.5, 0.55,
           0.6, 0.7, 0.75, 0.8, 0.7, 0.65]
grey_99 = [0, 0, 0, 0, 0, 0, 0, 0, 0, 0, 0.01, 0.02, 0.04, 0.06, 0.05, 0.08, 0.07, 0.1, 0.09, 0.12,
           0.15, 0.13, 0.17, 0.2, 0.18, 0.22, 0.2, 0.25, 0.22, 0.2, 0.18, 0.2, 0.17, 0.15, 0.18, 0.16, 0.2, 0.22, 0.25, 0.28,
           0.3, 0.28, 0.32, 0.3, 0.35, 0.33]
grey_100 = [0, 0, 0, 0, 0, 0, 0, 0, 0, 0.1, 0.25, 0.35, 0.3, 0.4, 0.35, 0.45, 0.5, 0.45, 0.55, 0.6,
            0.7, 0.65, 0.75, 0.8, 0.7, 0.75, 0.65, 0.7, 0.6, 0.65, 0.55, 0.6, 0.5, 0.55, 0.6, 0.65, 0.7, 0.8, 0.9, 1,
            1.1, 1.2, 1.1, 1, 0.95, 0.9]
grey_101 = [0, 0, 0, 0, 0, 0, 0, 0, 0, 0, 0.03, 0.05, 0.1, 0.15, 0.2, 0.3, 0.35, 0.45, 0.5, 0.6,
            0.55, 0.5, 0.45, 0.4, 0.35, 0.3, 0.28, 0.25, 0.22, 0.2, 0.18, 0.17, 0.16, 0.15, 0.15, 0.16, 0.18, 0.2, 0.22, 0.25,
            0.28, 0.3, 0.35, 0.4, 0.42, 0.45]
grey_102 = [0, 0, 0, 0, 0, 0, 0, 0, 0, 0, 0.02, 0.02, 0.03, 0.04, 0.03, 0.05, 0.04, 0.06, 0.05, 0.08,
            0.1, 0.12, 0.1, 0.14, 0.12, 0.16, 0.14, 0.18, 0.2, 0.18, 0.22, 0.25, 0.3, 0.28, 0.32, 0.35, 0.4, 0.45, 0.5, 0.55,
            0.6, 0.65, 0.7, 0.68, 0.66, 0.7]
grey_103 = [0, 0, 0, 0, 0, 0, 0, 0, 0, 0.05, 0.15, 0.3, 0.45, 0.6, 0.5, 0.4, 0.3, 0.25, 0.2, 0.25,
            0.3, 0.4, 0.5, 0.45, 0.4, 0.35, 0.3, 0.35, 0.4, 0.45, 0.5, 0.55, 0.6, 0.55, 0.5, 0.45, 0.4, 0.45, 0.5, 0.6,
            0.7, 0.8, 0.85, 0.9, 0.8, 0.75]

grey_series = [grey_01, grey_02, grey_03, grey_04, grey_05, grey_06, grey_07, grey_08, grey_09, grey_10,
               grey_11, grey_12, grey_13, grey_14, grey_15, grey_16, grey_17, grey_18, grey_19, grey_20,
               grey_21, grey_22, grey_23, grey_24, grey_25, grey_26, grey_27, grey_28, grey_29, grey_30,
               grey_31, grey_32, grey_33, grey_34, grey_35, grey_36, grey_37, grey_38, grey_39, grey_40,
               grey_41, grey_42, grey_43, grey_44, grey_45, grey_46, grey_47, grey_48, grey_49, grey_50,
               grey_51, grey_52, grey_53, grey_54, grey_55, grey_56, grey_57, grey_58, grey_59, grey_60,
               grey_61, grey_62, grey_63, grey_64, grey_65, grey_66, grey_67, grey_68, grey_69, grey_70,
               grey_71, grey_72, grey_73, grey_74, grey_75, grey_76, grey_77, grey_78, grey_79, grey_80,
               grey_81, grey_82, grey_83, grey_84, grey_85, grey_86, grey_87, grey_88, grey_89, grey_90,
               grey_91, grey_92, grey_93, grey_94, grey_95, grey_96, grey_97, grey_98, grey_99, grey_100,
               grey_101, grey_102, grey_103]

# ---------------- styling ----------------
BG = "#FFF1E5"
GRID = "#E8DCD0"
GREY_LINE = "#B3AAA2"
TEXT = "#66605C"
FONT = "Noto Sans"

highlights = [
    ("United Kingdom", united_kingdom, "#1E57A4", five_day_dates),
    ("Germany", germany, "#96C63C", five_day_dates),
    ("Sweden", sweden, "#F25F8F", sweden_dates),
    ("Austria", austria, "#2299DA", five_day_dates),
    ("Switzerland", switzerland, "#7C0B2F", five_day_dates),
    ("Italy", italy, "#E1263A", five_day_dates),
]


def tr(values):
    """log10(v + 1) transform used by the chart's vertical scale."""
    return np.log10(np.array(values, dtype=float) + 1.0)


fig = go.Figure()

for vals in grey_series:
    n = min(len(week_dates), len(vals))
    fig.add_trace(go.Scatter(x=week_dates[:n], y=tr(vals[:n]), mode="lines",
                             line=dict(color=GREY_LINE, width=1.15),
                             hoverinfo="skip", showlegend=False))

annotations = []
for name, vals, color, dates in highlights:
    y = tr(vals)
    fig.add_trace(go.Scatter(x=dates, y=y, mode="lines",
                             line=dict(color="rgba(255,248,242,0.92)", width=6),
                             hoverinfo="skip", showlegend=False, connectgaps=False))
    fig.add_trace(go.Scatter(x=dates, y=y, mode="lines",
                             line=dict(color=color, width=3),
                             hoverinfo="skip", showlegend=False, connectgaps=False))
    last = max(i for i, v in enumerate(vals) if v is not None)
    fig.add_trace(go.Scatter(x=[dates[last]], y=[y[last]], mode="markers",
                             marker=dict(color=color, size=11),
                             cliponaxis=False, hoverinfo="skip", showlegend=False))
    annotations.append(dict(x=dates[last], y=y[last], xref="x", yref="y",
                            text=name, showarrow=False, xanchor="left", yanchor="middle",
                            xshift=9, font=dict(family=FONT, size=16, color=color)))

# Germany label is drawn over the United Kingdom label, as in the original
annotations = [a for a in annotations if a["text"] != "Germany"] + \
              [a for a in annotations if a["text"] == "Germany"]

# The page body keeps its default 8px margin, so the figure is sized to fill
# the rest of the 1326x650 window exactly.
fig.update_layout(
    width=1318, height=642,
    margin=dict(l=38, r=149, t=0, b=20, autoexpand=False),
    paper_bgcolor=BG, plot_bgcolor=BG,
    showlegend=False, hovermode=False,
    annotations=annotations,
    font=dict(family=FONT, color=TEXT, size=16),
    xaxis=dict(type="date", range=["2020-01-04 17:00", "2020-12-05 03:36"],
               tickvals=month_ticks, ticktext=month_labels,
               showgrid=True, gridcolor=GRID, gridwidth=1,
               zeroline=False, showline=False, ticks="", automargin=False,
               ticklabeloverflow="allow",
               tickfont=dict(family=FONT, size=16, color=TEXT)),
    yaxis=dict(range=[-0.00657, 2.03717],
               tickvals=list(tr(y_ticks)), ticktext=y_labels,
               showgrid=True, gridcolor=GRID, gridwidth=1,
               zeroline=False, showline=False, ticks="", automargin=False,
               ticklabeloverflow="allow",
               tickfont=dict(family=FONT, size=16, color=TEXT)),
)

fig.write_html("out.html", config={"displayModeBar": False})
